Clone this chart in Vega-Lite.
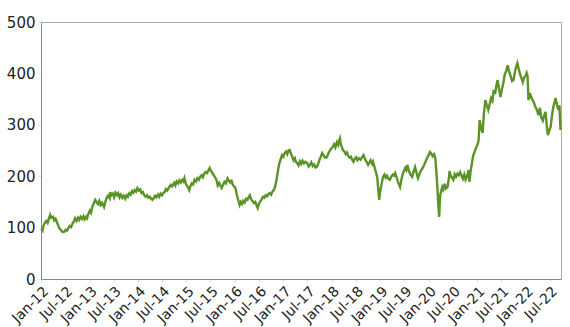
{
  "$schema": "https://vega.github.io/schema/vega-lite/v6.json",
  "width": 520,
  "height": 257,
  "autosize": {"type": "none"},
  "padding": {"left": 41, "top": 22, "right": 9, "bottom": 48},
  "config": {
    "view": {"stroke": "#aaaaaa", "strokeWidth": 1},
    "font": "DejaVu Sans",
    "axis": {"grid": false, "domainColor": "#888888", "labelColor": "#222222", "labelFont": "DejaVu Sans", "tickColor": "#dddddd", "tickSize": 3}
  },
  "data": {"values": [
{"d":"2012-01-03","v":97},{"d":"2012-01-12","v":94},{"d":"2012-01-20","v":104},{"d":"2012-02-01","v":110},{"d":"2012-02-10","v":113},{"d":"2012-02-20","v":109},{"d":"2012-03-01","v":118},{"d":"2012-03-10","v":125},{"d":"2012-03-20","v":119},{"d":"2012-04-01","v":121},{"d":"2012-04-10","v":114},{"d":"2012-04-20","v":117},{"d":"2012-05-01","v":110},{"d":"2012-05-10","v":104},{"d":"2012-05-20","v":98},{"d":"2012-06-01","v":95},{"d":"2012-06-12","v":91},{"d":"2012-06-25","v":92},{"d":"2012-07-05","v":96},{"d":"2012-07-15","v":94},{"d":"2012-07-25","v":99},{"d":"2012-08-05","v":103},{"d":"2012-08-15","v":101},{"d":"2012-08-25","v":108},{"d":"2012-09-05","v":112},{"d":"2012-09-13","v":118},{"d":"2012-09-25","v":113},{"d":"2012-10-05","v":119},{"d":"2012-10-15","v":115},{"d":"2012-10-25","v":121},{"d":"2012-11-05","v":117},{"d":"2012-11-15","v":122},{"d":"2012-11-25","v":116},{"d":"2012-12-05","v":121},{"d":"2012-12-13","v":118},{"d":"2012-12-22","v":126},
{"d":"2013-01-03","v":133},{"d":"2013-01-12","v":129},{"d":"2013-01-22","v":141},{"d":"2013-02-01","v":147},{"d":"2013-02-13","v":154},{"d":"2013-02-22","v":150},{"d":"2013-03-05","v":146},{"d":"2013-03-15","v":152},{"d":"2013-03-25","v":144},{"d":"2013-04-05","v":148},{"d":"2013-04-20","v":140},{"d":"2013-05-01","v":151},{"d":"2013-05-10","v":158},{"d":"2013-05-20","v":162},{"d":"2013-06-01","v":157},{"d":"2013-06-06","v":169},{"d":"2013-06-15","v":163},{"d":"2013-06-25","v":166},{"d":"2013-07-05","v":159},{"d":"2013-07-15","v":168},{"d":"2013-07-27","v":163},{"d":"2013-08-05","v":167},{"d":"2013-08-15","v":159},{"d":"2013-08-25","v":164},{"d":"2013-09-05","v":158},{"d":"2013-09-15","v":162},{"d":"2013-09-27","v":156},{"d":"2013-10-07","v":163},{"d":"2013-10-17","v":160},{"d":"2013-10-28","v":167},{"d":"2013-11-07","v":164},{"d":"2013-11-17","v":171},{"d":"2013-11-27","v":168},{"d":"2013-12-07","v":173},{"d":"2013-12-17","v":170},{"d":"2013-12-28","v":177},
{"d":"2014-01-08","v":172},{"d":"2014-01-18","v":174},{"d":"2014-01-28","v":167},{"d":"2014-02-07","v":169},{"d":"2014-02-17","v":163},{"d":"2014-02-27","v":160},{"d":"2014-03-10","v":163},{"d":"2014-03-20","v":158},{"d":"2014-03-30","v":160},{"d":"2014-04-10","v":156},{"d":"2014-04-20","v":154},{"d":"2014-05-01","v":158},{"d":"2014-05-10","v":162},{"d":"2014-05-20","v":159},{"d":"2014-06-01","v":164},{"d":"2014-06-10","v":160},{"d":"2014-06-20","v":166},{"d":"2014-07-01","v":163},{"d":"2014-07-10","v":167},{"d":"2014-07-20","v":169},{"d":"2014-07-30","v":175},{"d":"2014-08-10","v":172},{"d":"2014-08-25","v":179},{"d":"2014-09-05","v":183},{"d":"2014-09-15","v":180},{"d":"2014-10-01","v":187},{"d":"2014-10-10","v":182},{"d":"2014-10-20","v":190},{"d":"2014-11-01","v":186},{"d":"2014-11-10","v":192},{"d":"2014-11-20","v":188},{"d":"2014-12-01","v":193},{"d":"2014-12-10","v":190},{"d":"2014-12-17","v":196},{"d":"2014-12-28","v":185},
{"d":"2015-01-10","v":180},{"d":"2015-01-22","v":173},{"d":"2015-02-01","v":181},{"d":"2015-02-10","v":186},{"d":"2015-02-20","v":184},{"d":"2015-03-03","v":193},{"d":"2015-03-15","v":190},{"d":"2015-03-25","v":196},{"d":"2015-04-05","v":193},{"d":"2015-04-15","v":199},{"d":"2015-04-25","v":202},{"d":"2015-05-05","v":198},{"d":"2015-05-15","v":205},{"d":"2015-05-25","v":208},{"d":"2015-06-05","v":206},{"d":"2015-06-15","v":211},{"d":"2015-06-25","v":216},{"d":"2015-07-05","v":210},{"d":"2015-07-15","v":207},{"d":"2015-07-25","v":202},{"d":"2015-08-05","v":198},{"d":"2015-08-15","v":193},{"d":"2015-08-25","v":182},{"d":"2015-09-05","v":187},{"d":"2015-09-15","v":181},{"d":"2015-09-24","v":177},{"d":"2015-10-05","v":184},{"d":"2015-10-15","v":189},{"d":"2015-10-25","v":186},{"d":"2015-11-07","v":196},{"d":"2015-11-17","v":191},{"d":"2015-11-27","v":188},{"d":"2015-12-07","v":191},{"d":"2015-12-17","v":183},{"d":"2015-12-27","v":180},
{"d":"2016-01-05","v":177},{"d":"2016-01-15","v":165},{"d":"2016-01-25","v":155},{"d":"2016-02-06","v":144},{"d":"2016-02-15","v":150},{"d":"2016-02-25","v":146},{"d":"2016-03-05","v":152},{"d":"2016-03-15","v":149},{"d":"2016-03-25","v":156},{"d":"2016-04-05","v":154},{"d":"2016-04-15","v":160},{"d":"2016-04-23","v":163},{"d":"2016-05-03","v":155},{"d":"2016-05-13","v":152},{"d":"2016-05-23","v":148},{"d":"2016-06-03","v":150},{"d":"2016-06-13","v":143},{"d":"2016-06-21","v":138},{"d":"2016-07-01","v":147},{"d":"2016-07-11","v":151},{"d":"2016-07-21","v":155},{"d":"2016-07-31","v":160},{"d":"2016-08-10","v":158},{"d":"2016-08-20","v":163},{"d":"2016-08-30","v":161},{"d":"2016-09-10","v":165},{"d":"2016-09-20","v":167},{"d":"2016-09-30","v":164},{"d":"2016-10-10","v":170},{"d":"2016-10-20","v":173},{"d":"2016-10-27","v":177},{"d":"2016-11-05","v":186},{"d":"2016-11-14","v":200},{"d":"2016-11-22","v":212},{"d":"2016-12-01","v":225},{"d":"2016-12-10","v":232},{"d":"2016-12-21","v":241},{"d":"2016-12-31","v":238},
{"d":"2017-01-10","v":245},{"d":"2017-01-20","v":248},{"d":"2017-01-30","v":243},{"d":"2017-02-08","v":250},{"d":"2017-02-17","v":251},{"d":"2017-02-27","v":244},{"d":"2017-03-08","v":238},{"d":"2017-03-18","v":231},{"d":"2017-03-28","v":235},{"d":"2017-04-05","v":228},{"d":"2017-04-13","v":226},{"d":"2017-04-25","v":221},{"d":"2017-05-05","v":229},{"d":"2017-05-15","v":224},{"d":"2017-05-25","v":230},{"d":"2017-06-05","v":225},{"d":"2017-06-15","v":228},{"d":"2017-06-28","v":226},{"d":"2017-07-10","v":219},{"d":"2017-07-20","v":222},{"d":"2017-07-30","v":227},{"d":"2017-08-10","v":220},{"d":"2017-08-20","v":223},{"d":"2017-08-30","v":217},{"d":"2017-09-09","v":218},{"d":"2017-09-20","v":224},{"d":"2017-09-30","v":232},{"d":"2017-10-10","v":238},{"d":"2017-10-20","v":245},{"d":"2017-10-30","v":241},{"d":"2017-11-10","v":236},{"d":"2017-11-25","v":237},{"d":"2017-12-05","v":244},{"d":"2017-12-15","v":249},{"d":"2017-12-25","v":253},
{"d":"2018-01-08","v":257},{"d":"2018-01-18","v":262},{"d":"2018-01-28","v":256},{"d":"2018-02-08","v":266},{"d":"2018-02-18","v":261},{"d":"2018-02-25","v":270},{"d":"2018-03-03","v":274},{"d":"2018-03-10","v":262},{"d":"2018-03-18","v":256},{"d":"2018-03-25","v":251},{"d":"2018-04-05","v":248},{"d":"2018-04-15","v":243},{"d":"2018-04-25","v":246},{"d":"2018-05-05","v":239},{"d":"2018-05-15","v":236},{"d":"2018-05-25","v":238},{"d":"2018-06-03","v":232},{"d":"2018-06-13","v":228},{"d":"2018-06-23","v":234},{"d":"2018-07-03","v":237},{"d":"2018-07-13","v":231},{"d":"2018-07-23","v":235},{"d":"2018-08-05","v":232},{"d":"2018-08-18","v":237},{"d":"2018-08-28","v":241},{"d":"2018-09-08","v":233},{"d":"2018-09-18","v":229},{"d":"2018-10-01","v":222},{"d":"2018-10-10","v":226},{"d":"2018-10-20","v":231},{"d":"2018-11-01","v":224},{"d":"2018-11-07","v":228},{"d":"2018-11-17","v":219},{"d":"2018-11-27","v":210},{"d":"2018-12-05","v":202},{"d":"2018-12-10","v":196},{"d":"2018-12-17","v":172},{"d":"2018-12-24","v":154},{"d":"2018-12-31","v":170},
{"d":"2019-01-08","v":181},{"d":"2019-01-15","v":190},{"d":"2019-01-22","v":199},{"d":"2019-02-01","v":203},{"d":"2019-02-10","v":197},{"d":"2019-02-20","v":201},{"d":"2019-03-01","v":196},{"d":"2019-03-14","v":193},{"d":"2019-03-25","v":199},{"d":"2019-04-05","v":203},{"d":"2019-04-15","v":201},{"d":"2019-04-23","v":206},{"d":"2019-05-05","v":197},{"d":"2019-05-15","v":188},{"d":"2019-05-30","v":179},{"d":"2019-06-08","v":192},{"d":"2019-06-18","v":203},{"d":"2019-06-28","v":210},{"d":"2019-07-08","v":216},{"d":"2019-07-16","v":212},{"d":"2019-07-24","v":222},{"d":"2019-08-05","v":210},{"d":"2019-08-15","v":204},{"d":"2019-08-29","v":199},{"d":"2019-09-07","v":207},{"d":"2019-09-15","v":214},{"d":"2019-09-20","v":218},{"d":"2019-10-01","v":207},{"d":"2019-10-12","v":196},{"d":"2019-10-22","v":203},{"d":"2019-11-01","v":210},{"d":"2019-11-11","v":214},{"d":"2019-11-21","v":218},{"d":"2019-12-01","v":224},{"d":"2019-12-11","v":230},{"d":"2019-12-21","v":236},{"d":"2019-12-31","v":241},
{"d":"2020-01-11","v":247},{"d":"2020-01-20","v":244},{"d":"2020-01-30","v":239},{"d":"2020-02-10","v":243},{"d":"2020-02-20","v":235},{"d":"2020-02-27","v":212},{"d":"2020-03-06","v":179},{"d":"2020-03-12","v":150},{"d":"2020-03-20","v":121},{"d":"2020-03-27","v":162},{"d":"2020-04-05","v":172},{"d":"2020-04-12","v":179},{"d":"2020-04-20","v":174},{"d":"2020-05-01","v":185},{"d":"2020-05-10","v":176},{"d":"2020-05-22","v":179},{"d":"2020-06-01","v":196},{"d":"2020-06-06","v":210},{"d":"2020-06-15","v":201},{"d":"2020-06-25","v":197},{"d":"2020-07-05","v":193},{"d":"2020-07-15","v":204},{"d":"2020-07-25","v":199},{"d":"2020-08-05","v":205},{"d":"2020-08-15","v":202},{"d":"2020-08-25","v":208},{"d":"2020-09-05","v":201},{"d":"2020-09-15","v":195},{"d":"2020-09-25","v":203},{"d":"2020-10-05","v":193},{"d":"2020-10-15","v":199},{"d":"2020-10-27","v":212},{"d":"2020-11-03","v":189},{"d":"2020-11-12","v":210},{"d":"2020-11-22","v":226},{"d":"2020-12-02","v":241},{"d":"2020-12-12","v":247},{"d":"2020-12-22","v":255},
{"d":"2021-01-04","v":262},{"d":"2021-01-11","v":270},{"d":"2021-01-19","v":309},{"d":"2021-01-28","v":296},{"d":"2021-02-10","v":284},{"d":"2021-02-20","v":322},{"d":"2021-03-03","v":348},{"d":"2021-03-14","v":338},{"d":"2021-03-25","v":329},{"d":"2021-04-05","v":341},{"d":"2021-04-15","v":352},{"d":"2021-04-25","v":347},{"d":"2021-05-05","v":368},{"d":"2021-05-15","v":360},{"d":"2021-05-25","v":376},{"d":"2021-06-03","v":387},{"d":"2021-06-14","v":370},{"d":"2021-06-25","v":354},{"d":"2021-07-05","v":368},{"d":"2021-07-16","v":381},{"d":"2021-07-27","v":398},{"d":"2021-08-07","v":405},{"d":"2021-08-18","v":416},{"d":"2021-08-28","v":404},{"d":"2021-09-08","v":396},{"d":"2021-09-20","v":385},{"d":"2021-10-01","v":387},{"d":"2021-10-10","v":401},{"d":"2021-10-20","v":412},{"d":"2021-10-30","v":420},{"d":"2021-11-10","v":408},{"d":"2021-11-20","v":398},{"d":"2021-12-01","v":390},{"d":"2021-12-10","v":383},{"d":"2021-12-20","v":392},{"d":"2021-12-31","v":395},
{"d":"2022-01-08","v":401},{"d":"2022-01-15","v":395},{"d":"2022-01-22","v":348},{"d":"2022-02-01","v":362},{"d":"2022-02-10","v":355},{"d":"2022-02-20","v":349},{"d":"2022-03-03","v":344},{"d":"2022-03-13","v":336},{"d":"2022-03-25","v":330},{"d":"2022-04-08","v":319},{"d":"2022-04-18","v":333},{"d":"2022-04-28","v":315},{"d":"2022-05-10","v":308},{"d":"2022-05-20","v":318},{"d":"2022-05-30","v":325},{"d":"2022-06-08","v":301},{"d":"2022-06-17","v":280},{"d":"2022-06-27","v":288},{"d":"2022-07-08","v":296},{"d":"2022-07-18","v":318},{"d":"2022-07-28","v":335},{"d":"2022-08-07","v":344},{"d":"2022-08-14","v":352},{"d":"2022-08-24","v":340},{"d":"2022-09-05","v":329},{"d":"2022-09-12","v":338},{"d":"2022-09-20","v":290}
  ]},
  "mark": {"type": "line", "color": "#5b9426", "strokeWidth": 2.4},
  "encoding": {
    "x": {
      "field": "d", "type": "temporal", "title": null,
      "scale": {"domain": [{"year": 2012, "month": 1, "date": 1}, {"year": 2022, "month": 9, "date": 24}], "nice": false},
      "axis": {"tickCount": {"interval": "month", "step": 6}, "format": "%b-%y", "labelAngle": -45, "labelFontSize": 14, "labelPadding": 2, "labelOverlap": false, "labelFlush": false}
    },
    "y": {
      "field": "v", "type": "quantitative", "title": null,
      "scale": {"domain": [0, 500], "nice": false},
      "axis": {"values": [0, 100, 200, 300, 400, 500], "labelFontSize": 15, "labelPadding": 3}
    }
  }
}
